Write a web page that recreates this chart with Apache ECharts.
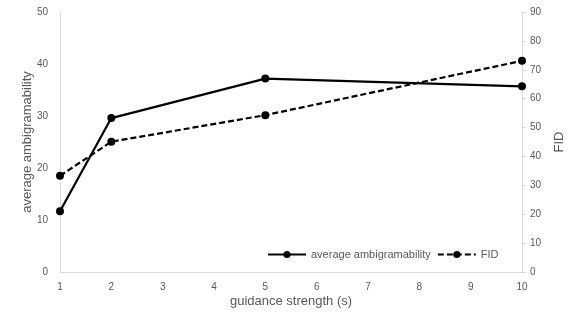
<!DOCTYPE html>
<html><head><meta charset="utf-8">
<script src="https://cdn.jsdelivr.net/npm/echarts@6/dist/echarts.min.js"></script>
<style>html,body{margin:0;padding:0;background:#fff}#c{width:581px;height:316px}</style>
</head><body><div id="c"></div>
<script>
const guidance = [1, 2, 5, 10];
const ambigramability = [11.7, 29.6, 37.2, 35.7];
const fid = [33.3, 45.1, 54.3, 73.1];
const xTicks = [1,2,3,4,5,6,7,8,9,10];

const font = 'Liberation Sans';
const grey = '#595959';
const chart = echarts.init(document.getElementById('c'), null, {renderer: 'canvas'});
chart.setOption({
  animation: false,
  backgroundColor: '#fff',
  grid: {left: 60, right: 59, top: 12, bottom: 44},
  legend: {
    left: 262, top: 244, itemWidth: 38, itemHeight: 9, itemGap: 6,
    textStyle: {color: grey, fontFamily: font, fontSize: 11},
    data: ['average ambigramability', 'FID']
  },
  xAxis: {
    type: 'value', min: 1, max: 10, interval: 1,
    name: 'guidance strength (s)', nameLocation: 'middle', nameGap: 23,
    nameMoveOverlap: false,
    nameTextStyle: {color: grey, fontFamily: font, fontSize: 13},
    axisLine: {lineStyle: {color: '#d9d9d9', width: 1}},
    axisTick: {show: false},
    splitLine: {show: false},
    axisLabel: {color: grey, fontFamily: font, fontSize: 10, margin: 10,
      formatter: v => xTicks.includes(v) ? String(v) : ''}
  },
  yAxis: [{
    type: 'value', min: 0, max: 50, interval: 10,
    name: 'average ambigramability', nameLocation: 'middle', nameGap: 26,
    nameMoveOverlap: false,
    nameTextStyle: {color: grey, fontFamily: font, fontSize: 13},
    axisLine: {show: true, lineStyle: {color: '#d9d9d9'}},
    axisTick: {show: false},
    splitLine: {show: false},
    axisLabel: {color: grey, fontFamily: font, fontSize: 10, margin: 12}
  }, {
    type: 'value', min: 0, max: 90, interval: 10, position: 'right',
    name: 'FID', nameLocation: 'middle', nameGap: 31, nameRotate: 90,
    nameMoveOverlap: false,
    nameTextStyle: {color: grey, fontFamily: font, fontSize: 13},
    axisLine: {show: true, lineStyle: {color: '#d9d9d9'}},
    axisTick: {show: true, length: 4, lineStyle: {color: '#d9d9d9'}},
    splitLine: {show: false},
    axisLabel: {color: grey, fontFamily: font, fontSize: 10, margin: 8}
  }],
  series: [{
    name: 'average ambigramability', type: 'line', yAxisIndex: 0,
    data: guidance.map((g, i) => [g, ambigramability[i]]),
    symbol: 'circle', symbolSize: 8,
    lineStyle: {color: '#000', width: 2.2},
    itemStyle: {color: '#000'}
  }, {
    name: 'FID', type: 'line', yAxisIndex: 1,
    data: guidance.map((g, i) => [g, fid[i]]),
    symbol: 'circle', symbolSize: 8,
    lineStyle: {color: '#000', width: 2.2, type: [6, 3]},
    itemStyle: {color: '#000'}
  }]
});
</script></body></html>
